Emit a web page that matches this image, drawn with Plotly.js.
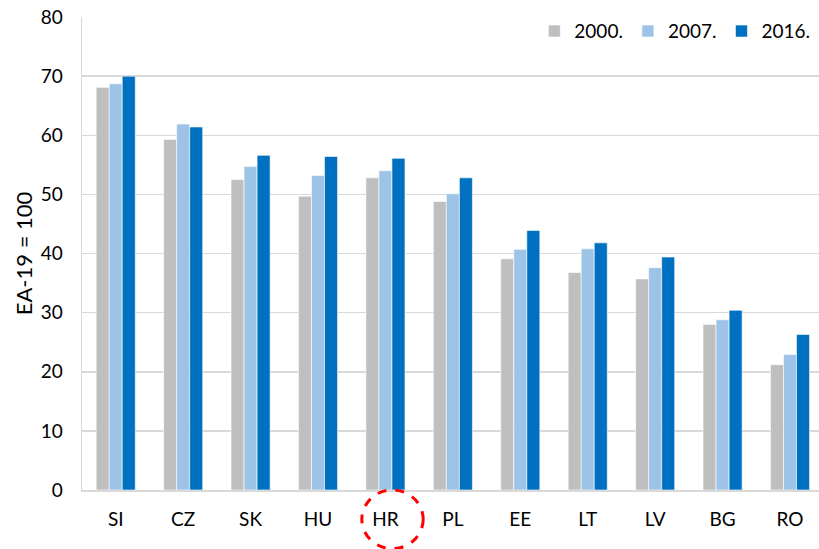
<!DOCTYPE html>
<html>
<head>
<meta charset="utf-8">
<script src="https://cdn.plot.ly/plotly-3.0.1.min.js"></script>
<style>html,body{margin:0;padding:0;overflow:hidden;background:#fff;}</style>
</head>
<body>
<div id="chart" style="width:819px;height:549px;"></div>
<script>
const categories = ["SI","CZ","SK","HU","HR","PL","EE","LT","LV","BG","RO"];
const seriesNames = ["2000.","2007.","2016."];
const v2000 = [68.1, 59.3, 52.5, 49.7, 52.8, 48.8, 39.1, 36.8, 35.7, 28.0, 21.2];
const v2007 = [68.7, 61.9, 54.7, 53.2, 54.0, 50.1, 40.7, 40.8, 37.6, 28.8, 22.9];
const v2016 = [70.0, 61.4, 56.6, 56.4, 56.1, 52.8, 43.9, 41.8, 39.4, 30.4, 26.3];
const colors = ["#bfbfbf","#9dc3e6","#0070c0"];
const yTicks = [0,10,20,30,40,50,60,70,80];

const FONT = "Lato, 'Open Sans', sans-serif";
const traces = [v2000, v2007, v2016].map((vals, i) => ({
  type: "bar",
  name: seriesNames[i],
  x: categories,
  y: vals,
  marker: {color: colors[i], line: {color: "#ffffff", width: 0.6}},
  hoverinfo: "x+y"
}));

const layout = {
  width: 819, height: 549,
  margin: {l: 82, r: 0, t: 17, b: 59},
  paper_bgcolor: "#ffffff", plot_bgcolor: "#ffffff",
  font: {family: FONT, size: 18, color: "#000000"},
  barmode: "group",
  bargap: 0.42,
  bargroupgap: 0,
  showlegend: true,
  legend: {
    orientation: "h", x: 0.995, xanchor: "right", y: 0.97, yanchor: "middle",
    font: {family: FONT, size: 19, color: "#000"},
    traceorder: "normal", itemwidth: 30, bgcolor: "rgba(0,0,0,0)"
  },
  xaxis: {
    type: "category",
    range: [-0.5, 10.43],
    showgrid: false,
    showline: true, linecolor: "#d9d9d9", linewidth: 1.5,
    ticks: "", ticklabelstandoff: 12,
    tickfont: {family: FONT, size: 19, color: "#000"},
    fixedrange: true
  },
  yaxis: {
    range: [0, 80],
    tickvals: yTicks,
    showgrid: true, gridcolor: "#d9d9d9", gridwidth: 1.5,
    showline: true, linecolor: "#d9d9d9", linewidth: 1.5, mirror: true,
    zeroline: false,
    ticks: "", ticklabelstandoff: 14,
    tickfont: {family: FONT, size: 19, color: "#000"},
    title: {text: "EA-19 = 100", font: {family: FONT, size: 22, color: "#000"}, standoff: 2},
    fixedrange: true
  },
  shapes: [{
    type: "circle", xref: "x", yref: "paper",
    x0: 3.65, x1: 4.56, y0: -0.124, y1: 0.0,
    line: {color: "#ff0000", width: 3, dash: "dash"},
    fillcolor: "rgba(0,0,0,0)"
  }]
};

Plotly.newPlot("chart", traces, layout, {displayModeBar: false, staticPlot: true});
</script>
</body>
</html>
